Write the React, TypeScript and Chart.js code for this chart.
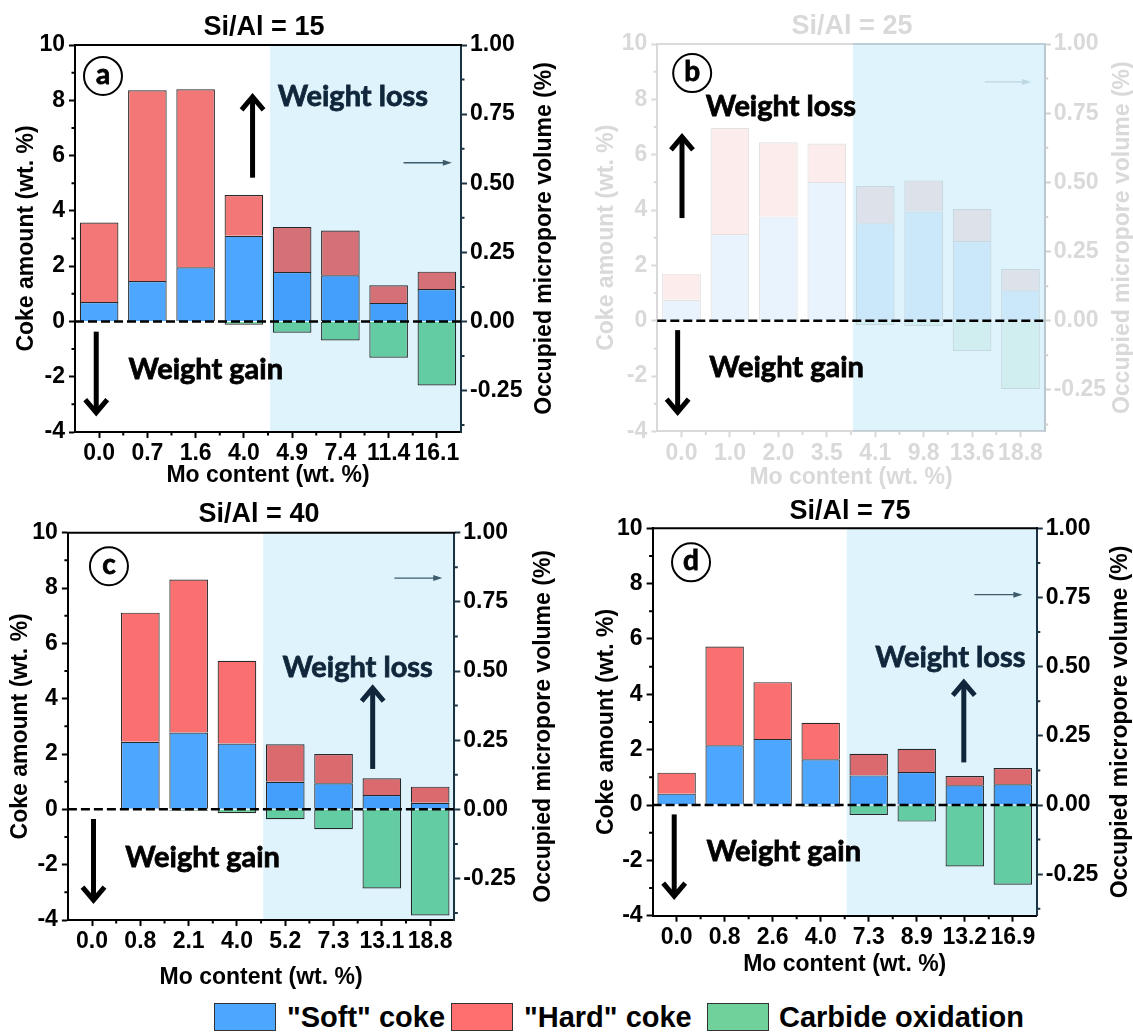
import React, { useEffect, useRef } from 'react';
import { Chart, registerables } from 'chart.js';

Chart.register(...registerables);

// ---------------- data ----------------
const catsA = ['0.0', '0.7', '1.6', '4.0', '4.9', '7.4', '11.4', '16.1'];
const softA = [0.70, 1.46, 1.96, 3.10, 1.79, 1.67, 0.67, 1.17];
const hardA = [2.88, 6.90, 6.44, 1.47, 1.63, 1.62, 0.64, 0.63];
const oxA = [null, null, null, -0.12, -0.41, -0.69, -1.31, -2.32];

const catsB = ['0.0', '1.0', '2.0', '3.5', '4.1', '9.8', '13.6', '18.8'];
const softB = [0.76, 3.13, 3.77, 5.01, 3.52, 3.95, 2.88, 1.10];
const hardB = [0.94, 3.84, 2.68, 1.39, 1.35, 1.12, 1.16, 0.77];
const oxB = [null, null, null, null, -0.16, -0.19, -1.09, -2.47];

const catsC = ['0.0', '0.8', '2.1', '4.0', '5.2', '7.3', '13.1', '18.8'];
const softC = [null, 2.44, 2.78, 2.38, 1.00, 0.94, 0.52, 0.24];
const hardC = [null, 4.67, 5.53, 2.99, 1.35, 1.06, 0.60, 0.58];
const oxC = [null, null, -0.05, -0.14, -0.36, -0.72, -2.86, -3.84];

const catsD = ['0.0', '0.8', '2.6', '4.0', '7.3', '8.9', '13.2', '16.9'];
const softD = [0.41, 2.16, 2.39, 1.65, 1.07, 1.19, 0.71, 0.75];
const hardD = [0.76, 3.57, 2.05, 1.32, 0.78, 0.84, 0.34, 0.59];
const oxD = [null, null, null, -0.05, -0.36, -0.60, -2.22, -2.88];

const leftTicks = [-4, -2, 0, 2, 4, 6, 8, 10];
const leftMinor = [-3, -1, 1, 3, 5, 7, 9];
const rightTicks = [-0.25, 0, 0.25, 0.5, 0.75, 1.0];
const rightMinor = [-0.375, -0.125, 0.125, 0.375, 0.625, 0.875];

const seriesNames = ['"Soft" coke', '"Hard" coke', 'Carbide oxidation'];
const xTitle = 'Mo content (wt. %)';
const yTitle = 'Coke amount (wt. %)';
const y2Title = 'Occupied micropore volume (%)';

// ---------------- styling ----------------
const FONT = "'Liberation Sans', Arial, sans-serif";
const NOTE = "Lato, 'Open Sans', sans-serif";
const SHADE = '#dff3fc';
const NAVY = '#10263a';

type Colors = { soft: string; hard: string; ox: string; border: string; axis: string; text: string; right: string; small: string };
const normal: Colors = { soft: '#4da6ff', hard: '#fa6f6f', ox: '#72d6a4', border: '#2a2a2a', axis: '#000', text: '#000', right: '#1d3443', small: '#3d5b6b' };
const normalA: Colors = { ...normal, hard: '#f47777' };
const faded: Colors = { soft: '#e8f3fd', hard: '#fdecec', ox: '#eefaf3', border: '#e2e2e2', axis: '#d9d9d9', text: '#d9d9d9', right: '#d0d0d0', small: '#bcd6e2' };

type Def = {
  left: number; top: number; W: number; H: number;
  plot: { l: number; r: number; t: number; b: number };
  title: string; titleX: number; titleY: number; xTitleY: number; leftTitleX: number; rightTitleX: number;
  cats: string[]; soft: (number | null)[]; hard: (number | null)[]; ox: (number | null)[];
  col: Colors; letter: string; circle: [number, number];
  loss: [number, number]; lossColor: string; up: [number, number, number]; upColor: string;
  gain: [number, number]; gainColor: string; down: [number, number, number];
  small: [number, number, number];
};

const panels: Def[] = [
  {
    left: 0, top: 0, W: 568, H: 490, plot: { l: 75, r: 461, t: 45, b: 432 },
    title: 'Si/Al = 15', titleX: 264, titleY: 28, xTitleY: 476, leftTitleX: 27, rightTitleX: 545,
    cats: catsA, soft: softA, hard: hardA, ox: oxA, col: normalA, letter: 'a', circle: [0.08, 8.88],
    loss: [5.26, 8.12], lossColor: NAVY, up: [3.18, 5.2, 8.12], upColor: '#000',
    gain: [2.21, -1.75], gainColor: '#000', down: [-0.06, -0.37, -3.3], small: [6.31, 7.31, 5.74],
  },
  {
    left: 568, top: 0, W: 565, H: 490, plot: { l: 89.3, r: 476.7, t: 44, b: 431.4 },
    title: 'Si/Al = 25', titleX: 284, titleY: 27, xTitleY: 478, leftTitleX: 39, rightTitleX: 555,
    cats: catsB, soft: softB, hard: hardB, ox: oxB, col: faded, letter: 'b', circle: [0.22, 8.95],
    loss: [2.05, 7.72], lossColor: '#000', up: [0.01, 3.71, 6.64], upColor: '#000',
    gain: [2.17, -1.71], gainColor: '#000', down: [-0.08, -0.34, -3.3], small: [6.26, 7.22, 8.63],
  },
  {
    left: 0, top: 490, W: 568, H: 500, plot: { l: 67.9, r: 454.3, t: 42.7, b: 430 },
    title: 'Si/Al = 40', titleX: 259, titleY: 25, xTitleY: 488, leftTitleX: 20.5, rightTitleX: 544,
    cats: catsC, soft: softC, hard: hardC, ox: oxC, col: normal, letter: 'c', circle: [0.35, 8.79],
    loss: [5.5, 5.11], lossColor: NAVY, up: [5.81, 1.46, 4.38], upColor: NAVY,
    gain: [2.29, -1.76], gainColor: '#000', down: [0.03, -0.35, -3.28], small: [6.26, 7.25, 8.36],
  },
  {
    left: 568, top: 490, W: 565, H: 500, plot: { l: 84.6, r: 468.8, t: 38.3, b: 425.7 },
    title: 'Si/Al = 75', titleX: 282, titleY: 22, xTitleY: 475, leftTitleX: 39, rightTitleX: 553,
    cats: catsD, soft: softD, hard: hardD, ox: oxD, col: normal, letter: 'd', circle: [0.3, 8.77],
    loss: [5.7, 5.33], lossColor: NAVY, up: [5.98, 1.54, 4.43], upColor: NAVY,
    gain: [2.23, -1.70], gainColor: '#000', down: [-0.05, -0.34, -3.29], small: [6.2, 7.2, 7.6],
  },
];

function drawArrow(ctx: CanvasRenderingContext2D, x: number, y1: number, y2: number, color: string) {
  const dir = y2 < y1 ? -1 : 1;
  ctx.save();
  ctx.strokeStyle = color;
  ctx.lineWidth = 5;
  ctx.lineCap = 'butt';
  ctx.beginPath();
  ctx.moveTo(x, y1);
  ctx.lineTo(x, y2 - dir * 2);
  ctx.stroke();
  ctx.lineJoin = 'miter';
  ctx.beginPath();
  ctx.moveTo(x - 11, y2 - dir * 13);
  ctx.lineTo(x, y2);
  ctx.lineTo(x + 11, y2 - dir * 13);
  ctx.stroke();
  ctx.restore();
}

function noteText(ctx: CanvasRenderingContext2D, s: string, x: number, y: number, color: string) {
  ctx.fillStyle = color;
  ctx.strokeStyle = color;
  ctx.lineWidth = 0.8;
  ctx.fillText(s, x, y);
  ctx.strokeText(s, x, y);
}

function makePlugin(d: Def) {
  return {
    id: 'panelDecor' + d.letter,
    afterDatasetsDraw(chart: any) {
      const { ctx, chartArea: a, scales } = chart;
      const x = scales.x, y = scales.y;
      ctx.save();
      // top border
      ctx.strokeStyle = d.col.axis;
      ctx.lineWidth = 2;
      ctx.beginPath();
      ctx.moveTo(a.left - 1, a.top);
      ctx.lineTo(a.right + 1, a.top);
      ctx.stroke();
      // dashed zero line
      const y0 = y.getPixelForValue(0);
      ctx.strokeStyle = '#000';
      ctx.lineWidth = 2.5;
      ctx.setLineDash([9, 4]);
      ctx.beginPath();
      ctx.moveTo(a.left, y0);
      ctx.lineTo(a.right, y0);
      ctx.stroke();
      ctx.setLineDash([]);
      // shaded region (multiplied over the bars)
      const sx = (x.getPixelForValue(3) + x.getPixelForValue(4)) / 2 + 2;
      ctx.globalCompositeOperation = 'multiply';
      ctx.fillStyle = SHADE;
      ctx.fillRect(sx, a.top - 1, a.right + 1 - sx, a.bottom - a.top + 1);
      ctx.restore();
    },
    afterDraw(chart: any) {
      const { ctx, chartArea: a, scales } = chart;
      const x = scales.x, y = scales.y, y2 = scales.y2;
      ctx.save();
      // minor ticks
      ctx.lineWidth = 2;
      ctx.strokeStyle = d.col.axis;
      ctx.beginPath();
      leftMinor.forEach((v) => { const p = y.getPixelForValue(v); ctx.moveTo(a.left - 3.5, p); ctx.lineTo(a.left, p); });
      for (let i = 0; i < d.cats.length - 1; i++) { const p = x.getPixelForValue(i + 0.5); ctx.moveTo(p, a.bottom); ctx.lineTo(p, a.bottom + 3.5); }
      ctx.stroke();
      ctx.strokeStyle = d.col.right;
      ctx.beginPath();
      rightMinor.forEach((v) => { const p = y2.getPixelForValue(v); ctx.moveTo(a.right, p); ctx.lineTo(a.right + 3.5, p); });
      ctx.stroke();
      // panel title
      ctx.fillStyle = d.col.text;
      ctx.font = `bold 27px ${FONT}`;
      ctx.textAlign = 'center';
      ctx.textBaseline = 'middle';
      ctx.fillText(d.title, d.titleX, d.titleY);
      // right axis title (reads bottom to top)
      ctx.save();
      ctx.translate(d.rightTitleX, (a.top + a.bottom) / 2);
      ctx.rotate(-Math.PI / 2);
      ctx.font = `bold 23px ${FONT}`;
      ctx.fillText(y2Title, 0, 0);
      ctx.restore();
      // circled letter
      const cx = x.getPixelForValue(d.circle[0]), cy = y.getPixelForValue(d.circle[1]);
      ctx.strokeStyle = '#000';
      ctx.lineWidth = 2;
      ctx.beginPath();
      ctx.arc(cx, cy, 19, 0, Math.PI * 2);
      ctx.stroke();
      ctx.font = `bold 28px ${NOTE}`;
      noteText(ctx, d.letter, cx, cy - 1, '#000');
      // weight loss / gain notes
      ctx.font = `bold 29px ${NOTE}`;
      noteText(ctx, 'Weight loss', x.getPixelForValue(d.loss[0]), y.getPixelForValue(d.loss[1]), d.lossColor);
      noteText(ctx, 'Weight gain', x.getPixelForValue(d.gain[0]), y.getPixelForValue(d.gain[1]), d.gainColor);
      drawArrow(ctx, x.getPixelForValue(d.up[0]), y.getPixelForValue(d.up[1]), y.getPixelForValue(d.up[2]), d.upColor);
      drawArrow(ctx, x.getPixelForValue(d.down[0]), y.getPixelForValue(d.down[1]), y.getPixelForValue(d.down[2]), '#000');
      // small arrow pointing to right axis
      const sx1 = x.getPixelForValue(d.small[0]), sx2 = x.getPixelForValue(d.small[1]), sy = y.getPixelForValue(d.small[2]);
      ctx.strokeStyle = d.col.small;
      ctx.fillStyle = d.col.small;
      ctx.lineWidth = 1.3;
      ctx.beginPath();
      ctx.moveTo(sx1, sy);
      ctx.lineTo(sx2 - 6, sy);
      ctx.stroke();
      ctx.beginPath();
      ctx.moveTo(sx2, sy);
      ctx.lineTo(sx2 - 9, sy - 3);
      ctx.lineTo(sx2 - 9, sy + 3);
      ctx.closePath();
      ctx.fill();
      ctx.restore();
    },
  };
}

function Panel({ d }: { d: Def }) {
  const ref = useRef<HTMLCanvasElement | null>(null);
  useEffect(() => {
    const canvas = ref.current!;
    const { W, H, plot: P, col } = d;
    const tickFont = { family: FONT, size: 23, weight: 'bold' as const };
    const titleFont = { family: FONT, size: 23, weight: 'bold' as const, lineHeight: 1 };
    const grid = { drawOnChartArea: false, drawTicks: true, tickLength: 6, tickWidth: 2, tickColor: col.axis };
    const mk = (label: string, data: (number | null)[], bg: string) => ({
      label, data, backgroundColor: bg, borderColor: col.border, borderWidth: 1.2, stack: 's', yAxisID: 'y',
    });
    const chart = new Chart(canvas, {
      type: 'bar',
      data: {
        labels: d.cats,
        datasets: [mk(seriesNames[0], d.soft, col.soft), mk(seriesNames[1], d.hard, col.hard), mk(seriesNames[2], d.ox, col.ox)],
      },
      options: {
        responsive: false,
        animation: false,
        devicePixelRatio: 1,
        layout: { padding: { top: P.t, left: 0, right: 0, bottom: 0 } },
        datasets: { bar: { categoryPercentage: 1, barPercentage: 0.8 } },
        plugins: {
          legend: { display: false },
          tooltip: { enabled: false },
          title: { display: false },
        },
        scales: {
          x: {
            stacked: true, offset: true,
            grid: { ...grid, offset: false },
            border: { color: col.axis, width: 2 },
            ticks: { font: tickFont, color: col.text, padding: 2, maxRotation: 0, autoSkip: false },
            title: { display: true, text: xTitle, color: col.text, font: titleFont, padding: { top: 0, bottom: H - d.xTitleY - 11.5 } },
            afterFit: (s: any) => { s.height = H - P.b; },
          },
          y: {
            stacked: true, min: -4, max: 10, position: 'left',
            afterBuildTicks: (s: any) => { s.ticks = leftTicks.map((v) => ({ value: v })); },
            grid,
            border: { color: col.axis, width: 2 },
            ticks: { font: tickFont, color: col.text, padding: 4, callback: (v: any) => String(v) },
            title: { display: true, text: yTitle, color: col.text, font: titleFont, padding: { top: d.leftTitleX - 11.5, bottom: 0 } },
            afterFit: (s: any) => { s.width = P.l; },
          },
          y2: {
            type: 'linear', position: 'right', min: -0.4, max: 1.0,
            afterBuildTicks: (s: any) => { s.ticks = rightTicks.map((v) => ({ value: v })); },
            grid: { ...grid, tickColor: col.right },
            border: { color: col.right, width: 2 },
            ticks: { font: tickFont, color: col.text, padding: 3, callback: (v: any) => Number(v).toFixed(2) },
            afterFit: (s: any) => { s.width = W - P.r; },
          },
        },
      } as any,
      plugins: [makePlugin(d)],
    });
    return () => chart.destroy();
  }, [d]);
  return (
    <canvas
      ref={ref}
      width={d.W}
      height={d.H}
      style={{ position: 'absolute', left: d.left, top: d.top, width: d.W, height: d.H }}
    />
  );
}

const legendItems = [
  { name: seriesNames[0], color: '#4da6ff', box: 214, text: 287 },
  { name: seriesNames[1], color: '#ff6f6f', box: 451, text: 524 },
  { name: seriesNames[2], color: '#70d19b', box: 707, text: 779 },
];

export default function App() {
  return (
    <div style={{ position: 'absolute', left: 0, top: 0, width: 1133, height: 1034, background: '#fff', overflow: 'hidden' }}>
      {panels.map((d) => <Panel key={d.letter} d={d} />)}
      {legendItems.map((it) => (
        <React.Fragment key={it.name}>
          <div style={{ position: 'absolute', left: it.box, top: 1003, width: 62, height: 28, background: it.color, border: '1px solid #333', boxSizing: 'border-box' }} />
          <div style={{ position: 'absolute', left: it.text, top: 1001, height: 32, lineHeight: '32px', font: `bold 29px ${FONT}`, color: '#000', whiteSpace: 'nowrap' }}>{it.name}</div>
        </React.Fragment>
      ))}
    </div>
  );
}
